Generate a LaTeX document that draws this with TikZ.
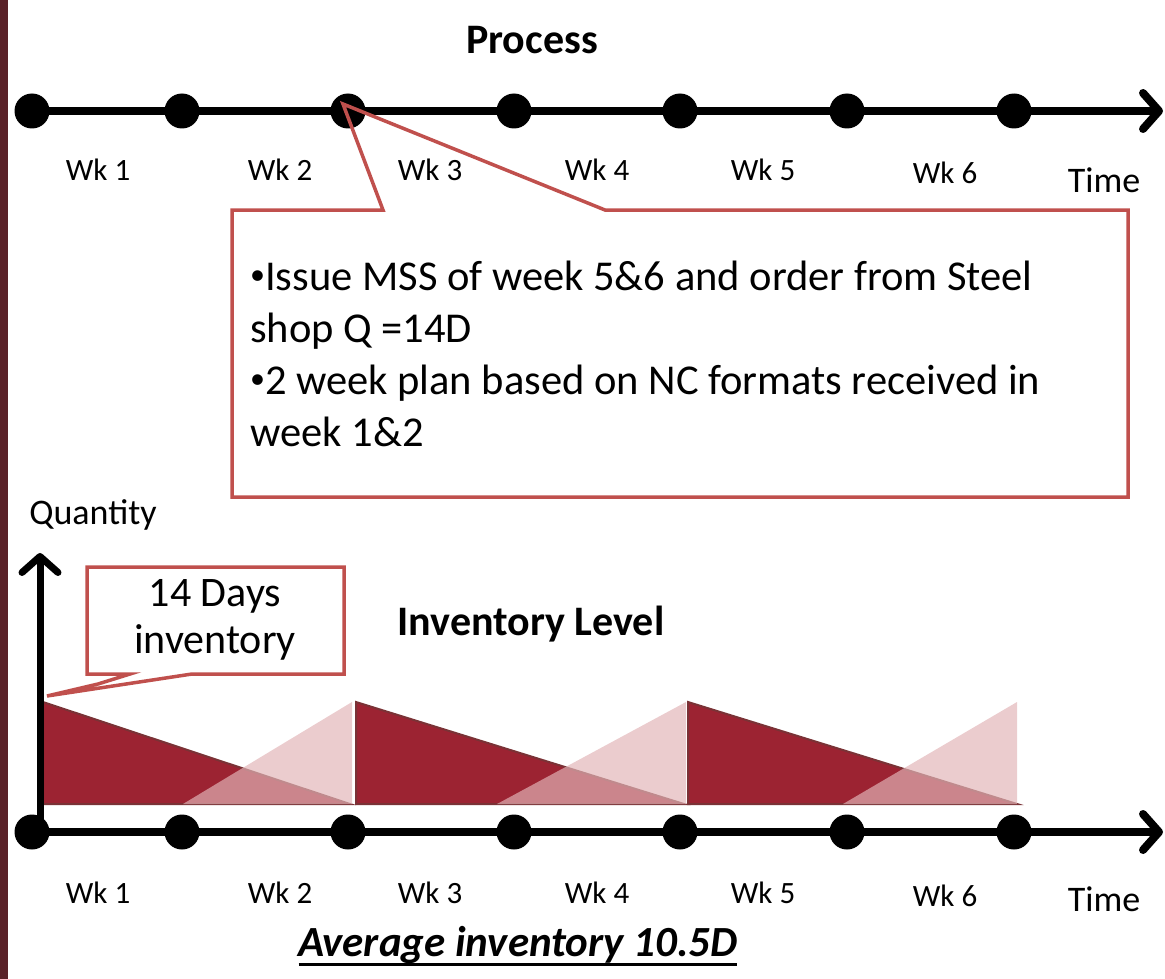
\documentclass[tikz,border=0pt]{standalone}
\usepackage{fontspec}
\setmainfont{Carlito}
\usetikzlibrary{arrows.meta, calc}

\definecolor{boxred}{RGB}{192,80,77}
\definecolor{invdark}{RGB}{156,35,50}
\definecolor{invedge}{RGB}{122,50,54}
\definecolor{invlight}{RGB}{226,180,183}
\definecolor{sidebar}{RGB}{90,34,40}

% small bullet for the callout lines
\newcommand{\smallbul}{\raisebox{0.12em}{\fontsize{30}{30}\selectfont•}}

\begin{document}
\begin{tikzpicture}[x=1pt, y=-1pt,
    dot/.style={circle, fill=black, inner sep=0pt, minimum size=35pt},
    timeline/.style={line width=8pt, -{Straight Barb[length=16pt, width=36pt, round]}},
    wklabel/.style={font=\fontsize{31}{34}\selectfont},
    timelabel/.style={font=\fontsize{36}{40}\selectfont},
    heading/.style={font=\fontsize{42}{48}\selectfont\bfseries},
    callout/.style={draw=boxred, line width=3.5pt, line join=miter},
    stock/.style={fill=invdark, draw=invedge, line width=2pt},
    refill/.style={fill=invlight, fill opacity=0.68}]
    \useasboundingbox (0,0) rectangle (1165,979);
    \fill[sidebar] (0,0) rectangle (8,979);

    % process time line
    \node[heading] (process) at (532,40) {Process};
    \foreach \n/\x in {0/32,1/182,2/348,3/514,4/680,5/847,6/1014}
        \node[dot] (p\n) at (\x,111) {};
    \coordinate (pend) at (1163,111);
    \draw[timeline] (p0.center) -- (pend);
    \foreach \n/\x/\y in {1/98/170,2/280/170,3/430/170,4/597/170,5/763/170,6/945/173}
        \node[wklabel] (pw\n) at (\x,\y) {Wk \n};
    \node[timelabel] (ptime) at (1104,180) {Time};

    % callout pointing at end of week 2
    \coordinate (tip) at (343,104);
    \draw[callout] (232,210) -- (383,210) -- (tip) -- (605,210) -- (1128,210)
        -- (1128,497) -- (232,497) -- cycle;
    % base of a multi-line node is its last line
    \node[anchor=base west, align=left, inner sep=0pt,
          font=\fontsize{42.5}{52}\selectfont] (issue) at (250,446)
        {\smallbul Issue MSS of week 5\&6 and order from Steel\\
         shop Q =14D\\
         \smallbul 2 week plan based on NC formats received in\\
         week 1\&2};

    % inventory chart
    \node[font=\fontsize{36}{40}\selectfont] (qty) at (93,515) {Quantity};
    \node[heading] (invlevel) at (531,624) {Inventory Level};

    \foreach \a/\b in {43/350,356/684,688/1017}
        \filldraw[stock] (\a,702) -- (\b,804) -- (\a,804) -- cycle;
    \foreach \a/\b in {183/352,497/686,843/1017}
        \fill[refill] (\a,804) -- (\b,702) -- (\b,804) -- cycle;

    \foreach \n/\x in {0/32,1/182,2/348,3/514,4/680,5/847,6/1014}
        \node[dot] (q\n) at (\x,832) {};
    \coordinate (qend) at (1163,832);
    \coordinate (qtop) at (40,553);
    \draw[timeline] (q0.center) -- (qend);
    \draw[timeline, line width=7pt] (40,832) -- (qtop);
    \foreach \n/\x/\y in {1/98/893,2/280/893,3/430/893,4/597/893,5/763/893,6/945/896}
        \node[wklabel] (qw\n) at (\x,\y) {Wk \n};
    \node[timelabel] (qtime) at (1104,899) {Time};

    % 14 days callout
    \draw[callout, fill=white] (87,567) -- (344,567) -- (344,674) -- (192,674)
        -- (47,696) -- (98,684) -- (130,674) -- (87,674) -- cycle;
    \node[align=center, font=\fontsize{42}{47}\selectfont] (days) at (215,620)
        {14 Days\\inventory};

    % average
    \node[font=\fontsize{43}{48}\selectfont\bfseries\itshape] (avg) at (518,945)
        {Average inventory 10.5D};
    \draw[line width=3pt] ($(avg.base west)+(4,8)$) -- ($(avg.base east)+(-4,8)$);
\end{tikzpicture}
\end{document}
